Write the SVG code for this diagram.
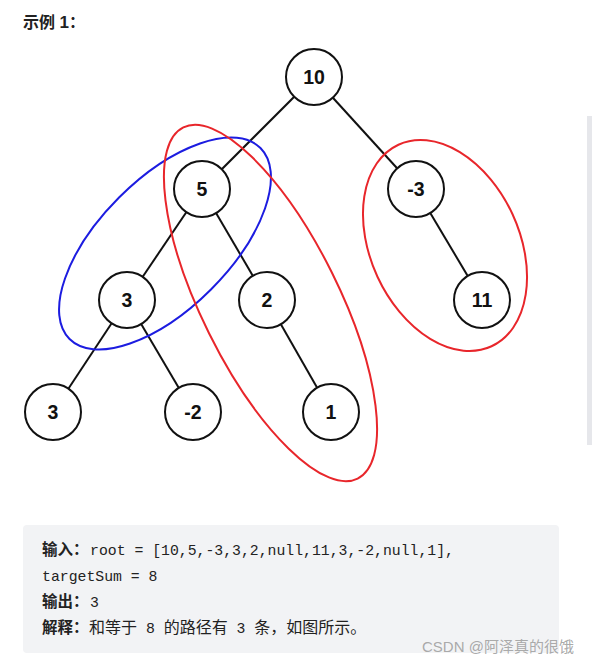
<svg xmlns="http://www.w3.org/2000/svg" width="592" height="665" viewBox="0 0 592 665">
<style>
.node circle{fill:#fff;stroke:#111;stroke-width:2}
.node text{font-family:"Liberation Sans",Arial,sans-serif;font-weight:bold;font-size:19.5px;fill:#111;text-anchor:middle;dominant-baseline:central}
.edge{stroke:#111;stroke-width:2}
.red{fill:none;stroke:#e8262b;stroke-width:2}
.blue{fill:none;stroke:#1c1ce0;stroke-width:2}
.lbl{font-family:"Liberation Sans","Noto Sans CJK SC",sans-serif;font-weight:bold;font-size:15.5px;fill:#222}
.mono{font-family:"Liberation Mono","Noto Sans CJK SC",monospace;font-size:14.8px;fill:#222}
.cjk{font-family:"Noto Sans CJK SC",sans-serif;font-size:16px;fill:#222}
</style>
<rect width="592" height="665" fill="#fff"/>
<text x="23" y="28" font-family="'Liberation Sans','Noto Sans CJK SC',sans-serif" font-weight="bold" font-size="16" fill="#222">示例 <tspan font-size="17">1</tspan>：</text>
<rect x="587" y="116" width="5" height="329" fill="#e6e7eb"/>
<g id="connectors">
<line class="edge" x1="314" y1="77" x2="202" y2="189"/>
<line class="edge" x1="314" y1="77" x2="416" y2="189"/>
<line class="edge" x1="202" y1="189" x2="127" y2="300"/>
<line class="edge" x1="202" y1="189" x2="267" y2="300"/>
<line class="edge" x1="416" y1="189" x2="482" y2="300"/>
<line class="edge" x1="127" y1="300" x2="53" y2="412"/>
<line class="edge" x1="127" y1="300" x2="193" y2="412"/>
<line class="edge" x1="267" y1="300" x2="331" y2="412"/>
</g>
<g id="n10" class="node"><circle cx="314" cy="77" r="28"/><text x="314" y="77">10</text></g>
<g id="n5" class="node"><circle cx="202" cy="189" r="28"/><text x="202" y="189">5</text></g>
<g id="nm3" class="node"><circle cx="416" cy="189" r="28"/><text x="416" y="189">-3</text></g>
<g id="n3a" class="node"><circle cx="127" cy="300" r="28"/><text x="127" y="300">3</text></g>
<g id="n2" class="node"><circle cx="267" cy="300" r="28"/><text x="267" y="300">2</text></g>
<g id="n11" class="node"><circle cx="482" cy="300" r="28"/><text x="482" y="300">11</text></g>
<g id="n3b" class="node"><circle cx="53" cy="412" r="28"/><text x="53" y="412">3</text></g>
<g id="nm2" class="node"><circle cx="193" cy="412" r="28"/><text x="193" y="412">-2</text></g>
<g id="n1" class="node"><circle cx="331" cy="412" r="28"/><text x="331" y="412">1</text></g>
<g id="paths">
<ellipse class="blue" cx="165" cy="243.5" rx="135" ry="65" transform="rotate(-45 165 243.5)"/>
<ellipse class="red" cx="270.5" cy="303" rx="196" ry="68.5" transform="rotate(63.6 270.5 303)"/>
<ellipse class="red" cx="445" cy="245.5" rx="111" ry="74.4" transform="rotate(65.2 445 245.5)"/>
</g>
<g id="explanation">
<rect x="23" y="525" width="536" height="128" rx="4" fill="#f2f3f5"/>
<text x="42" y="555"><tspan class="lbl">输入：</tspan><tspan class="mono" x="90" textLength="364">root = [10,5,-3,3,2,null,11,3,-2,null,1],</tspan></text>
<text x="42" y="581" class="mono">targetSum = 8</text>
<text x="42" y="607"><tspan class="lbl">输出：</tspan><tspan class="mono" x="90">3</tspan></text>
<text x="42" y="633"><tspan class="lbl">解释：</tspan><tspan class="cjk" x="89">和等于</tspan><tspan class="mono"> 8 </tspan><tspan class="cjk">的路径有</tspan><tspan class="mono"> 3 </tspan><tspan class="cjk">条，如图所示。</tspan></text>
<text x="422" y="652" font-family="'Liberation Sans','Noto Sans CJK SC',sans-serif" font-size="15" fill="#a0a0a0" fill-opacity="0.9">CSDN @阿泽真的很饿</text>
</g>
</svg>
